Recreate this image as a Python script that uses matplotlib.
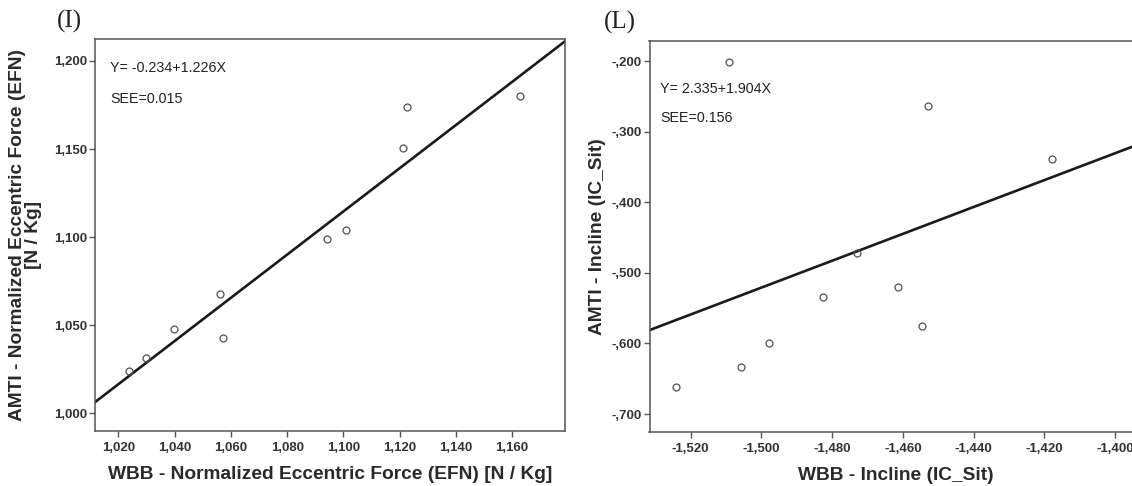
import matplotlib
matplotlib.use("Agg")
import matplotlib.pyplot as plt
from matplotlib.ticker import FuncFormatter
import numpy as np

plt.rcParams['font.family'] = ['Liberation Sans Narrow', 'Liberation Sans', 'DejaVu Sans']

# (I) eccentric force panel
wbb_efn = [1.0239, 1.0299, 1.0399, 1.0561, 1.0572, 1.0943, 1.1011, 1.1213, 1.1227, 1.1628]
amti_efn = [1.0243, 1.0314, 1.0481, 1.0678, 1.0426, 1.0989, 1.1042, 1.1504, 1.1739, 1.1799]
fit_efn = (-0.234, 1.226)
see_efn = 0.015
xticks_efn = [1.02, 1.04, 1.06, 1.08, 1.10, 1.12, 1.14, 1.16]
yticks_efn = [1.00, 1.05, 1.10, 1.15, 1.20]

# (L) incline panel
wbb_ic = [-1.5092, -1.4529, -1.4179, -1.4729, -1.4615, -1.4826, -1.4546, -1.4977, -1.5058, -1.5241]
amti_ic = [-0.201, -0.2635, -0.3388, -0.4717, -0.5206, -0.5338, -0.575, -0.5996, -0.6328, -0.6616]
fit_ic = (2.335, 1.904)
see_ic = 0.156
xticks_ic = [-1.52, -1.50, -1.48, -1.46, -1.44, -1.42, -1.40]
yticks_ic = [-0.7, -0.6, -0.5, -0.4, -0.3, -0.2]


def spss_fmt(v, pos=None):
    s = f"{v:.3f}".replace('.', ',')
    if s.startswith('-0,'):
        s = '-' + s[2:]
    elif s.startswith('0,'):
        s = s[1:]
    return s


def panel(ax, x, y, fit, see, xt, yt, xlim, ylim, xlabel, ylabel, letter,
          txt_x, txt_y, ylab_x, letter_x):
    ax.set_xlim(*xlim)
    ax.set_ylim(*ylim)
    xs = np.array(xlim)
    ax.plot(xs, fit[0] + fit[1] * xs, color='#1a1a1a', lw=1.9, zorder=2)
    ax.plot(x, y, 'o', mfc='none', mec='#505050', mew=0.9, ms=5, zorder=3)
    ax.set_xticks(xt)
    ax.set_yticks(yt)
    ax.xaxis.set_major_formatter(FuncFormatter(spss_fmt))
    ax.yaxis.set_major_formatter(FuncFormatter(spss_fmt))
    ax.tick_params(axis='both', colors='#555555', labelcolor='#333333',
                   labelsize=9.5, length=4.5, width=1)
    ax.tick_params(axis='y', pad=1)
    ax.tick_params(axis='x', pad=3.5)
    for lab in ax.get_xticklabels() + ax.get_yticklabels():
        lab.set_fontweight('bold')
    for sp in ax.spines.values():
        sp.set_color('#555555')
        sp.set_linewidth(1.1)
    ax.set_xlabel(xlabel, fontsize=13.8, fontweight='bold', color='#2a2a2a',
                  family='Liberation Sans')
    ax.xaxis.set_label_coords(0.5, -0.088)
    ax.set_ylabel(ylabel, fontsize=13.8, fontweight='bold', color='#2a2a2a',
                  family='Liberation Sans', linespacing=0.92)
    ax.yaxis.set_label_coords(ylab_x, 0.5)
    ax.text(txt_x, txt_y[0], f"Y= {fit[0]:.3f}+{fit[1]:.3f}X", transform=ax.transAxes,
            fontsize=10.3, va='center', ha='left', color='#222222', family='Liberation Sans')
    ax.text(txt_x, txt_y[1], f"SEE={see:.3f}", transform=ax.transAxes,
            fontsize=10.3, va='center', ha='left', color='#222222', family='Liberation Sans')
    ax.text(letter_x, 1.046, letter, transform=ax.transAxes, fontsize=18,
            family='Liberation Serif', va='center', ha='left', color='#222222')


fig = plt.figure(figsize=(11.32, 4.86), dpi=100)
ax1 = fig.add_axes([95 / 1132, (486 - 431.3) / 486, 469.5 / 1132, 392 / 486])
ax2 = fig.add_axes([649.5 / 1132, (486 - 432.3) / 486, 492.5 / 1132, 391.6 / 486])

panel(ax1, wbb_efn, amti_efn, fit_efn, see_efn, xticks_efn, yticks_efn,
      (1.0117, 1.1786), (0.9898, 1.2123),
      'WBB - Normalized Eccentric Force (EFN) [N / Kg]',
      'AMTI - Normalized Eccentric Force (EFN)\n[N / Kg]',
      '(I)', 0.033, (0.927, 0.848), -0.113, -0.081)
panel(ax2, wbb_ic, amti_ic, fit_ic, see_ic, xticks_ic, yticks_ic,
      (-1.5316, -1.3924), (-0.7259, -0.1712),
      'WBB - Incline (IC_Sit)',
      'AMTI - Incline (IC_Sit)',
      '(L)', 0.021, (0.877, 0.803), -0.089, -0.092)

fig.savefig('out.png', dpi=100)
